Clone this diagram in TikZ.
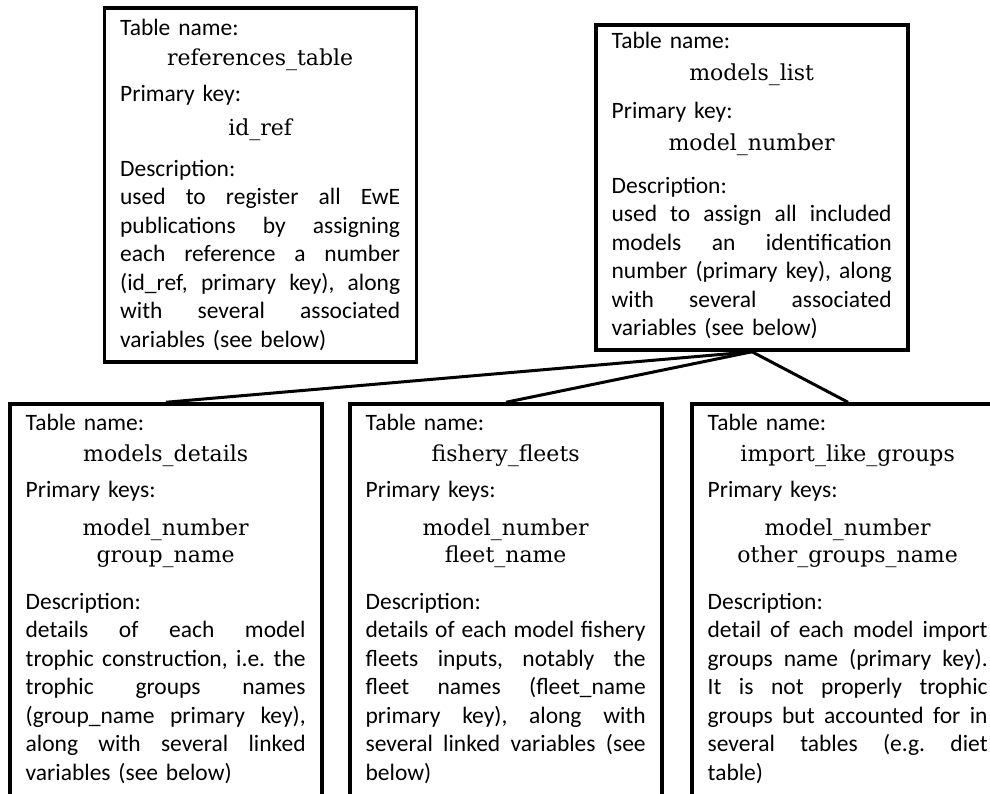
\documentclass[tikz,border=0pt]{standalone}
\usepackage{fontspec}
\setmainfont{Carlito}
\newfontfamily\valfont{DejaVu Serif}
\usetikzlibrary{positioning}
\frenchspacing

\newlength{\desclen}
\setlength{\desclen}{140pt}
\newcommand{\keyval}[1]{{\centering\valfont\fontsize{11}{14.25}\selectfont #1\par}}
\newcommand{\descline}[1]{\hbox to \desclen{\spaceskip=0.226em plus 1fil\relax #1}}
\newcommand{\lastline}[1]{#1\par}

\begin{document}
\begin{tikzpicture}[
    x=0.5pt, y=-0.5pt,
    tbox/.style={
        draw,
        line width=1.75pt,
        minimum width=156pt,
        inner sep=0pt,
    },
    ttext/.style={
        anchor=base west,
        inner sep=0pt,
        text width=140pt,
        align=left,
        font=\fontsize{11.75}{14.25}\selectfont,
    },
    link/.style={line width=1.5pt},
]
\useasboundingbox (0,0) rectangle (990,793);
\clip (0,0) rectangle (990,793);

% ----- Boxes -----
\node[tbox, minimum height=177pt] (refs) at (260.5,185) {};
\node[tbox, minimum height=162.5pt] (models) at (752,187.5) {};
\node[tbox, minimum height=215pt] (details) at (166,619) {};
\node[tbox, minimum height=215pt] (fleets) at (506,619) {};
\node[tbox, minimum height=215pt] (imports) at (848,619) {};

% ----- Texts -----
\node[ttext] (refstext) at ([shift={(17,29)}]refs.north west) {%
    Table name:\par\vspace{0.75pt}
    \keyval{references\_table}\vspace{3.75pt}
    Primary key:\par\vspace{2.75pt}
    \keyval{id\_ref}\vspace{6.25pt}
    Description:\par
    \descline{used to register all EwE}
    \descline{publications by assigning}
    \descline{each reference a number}
    \descline{(id\_ref, primary key), along}
    \descline{with several associated}
    \lastline{variables (see below)}};

\node[ttext] (modelstext) at ([shift={(17,25)}]models.north west) {%
    Table name:\par\vspace{1.75pt}
    \keyval{models\_list}\vspace{4.75pt}
    Primary key:\par\vspace{1.75pt}
    \keyval{model\_number}\vspace{7.25pt}
    Description:\par
    \descline{used to assign all included}
    \descline{models an identification}
    \descline{number (primary key), along}
    \descline{with several associated}
    \lastline{variables (see below)}};

\node[ttext] (detailstext) at ([shift={(17,28)}]details.north west) {%
    Table name:\par\vspace{1.25pt}
    \keyval{models\_details}\vspace{3.75pt}
    Primary keys:\par\vspace{4.75pt}
    \keyval{model\_number}\vspace{-0.75pt}
    \keyval{group\_name}\vspace{9.25pt}
    Description:\par
    \descline{details of each model}
    \descline{trophic construction, i.e. the}
    \descline{trophic groups names}
    \descline{(group\_name primary key),}
    \descline{along with several linked}
    \lastline{variables (see below)}};

\node[ttext] (fleetstext) at ([shift={(17,28)}]fleets.north west) {%
    Table name:\par\vspace{1.25pt}
    \keyval{fishery\_fleets}\vspace{3.75pt}
    Primary keys:\par\vspace{4.75pt}
    \keyval{model\_number}\vspace{-0.75pt}
    \keyval{fleet\_name}\vspace{9.25pt}
    Description:\par
    \descline{details of each model fishery}
    \descline{fleets inputs, notably the}
    \descline{fleet names (fleet\_name}
    \descline{primary key), along with}
    \descline{several linked variables (see}
    \lastline{below)}};

\node[ttext] (importstext) at ([shift={(17,28)}]imports.north west) {%
    Table name:\par\vspace{1.25pt}
    \keyval{import\_like\_groups}\vspace{3.75pt}
    Primary keys:\par\vspace{4.75pt}
    \keyval{model\_number}\vspace{-0.75pt}
    \keyval{other\_groups\_name}\vspace{9.25pt}
    Description:\par
    \descline{detail of each model import}
    \descline{groups name (primary key).}
    \descline{It is not properly trophic}
    \descline{groups but accounted for in}
    \descline{several tables (e.g. diet}
    \lastline{table)}};

% ----- Links -----
\draw[link] (models.south) -- (details.north);
\draw[link] (models.south) -- (fleets.north);
\draw[link] (models.south) -- (imports.north);

\end{tikzpicture}
\end{document}
